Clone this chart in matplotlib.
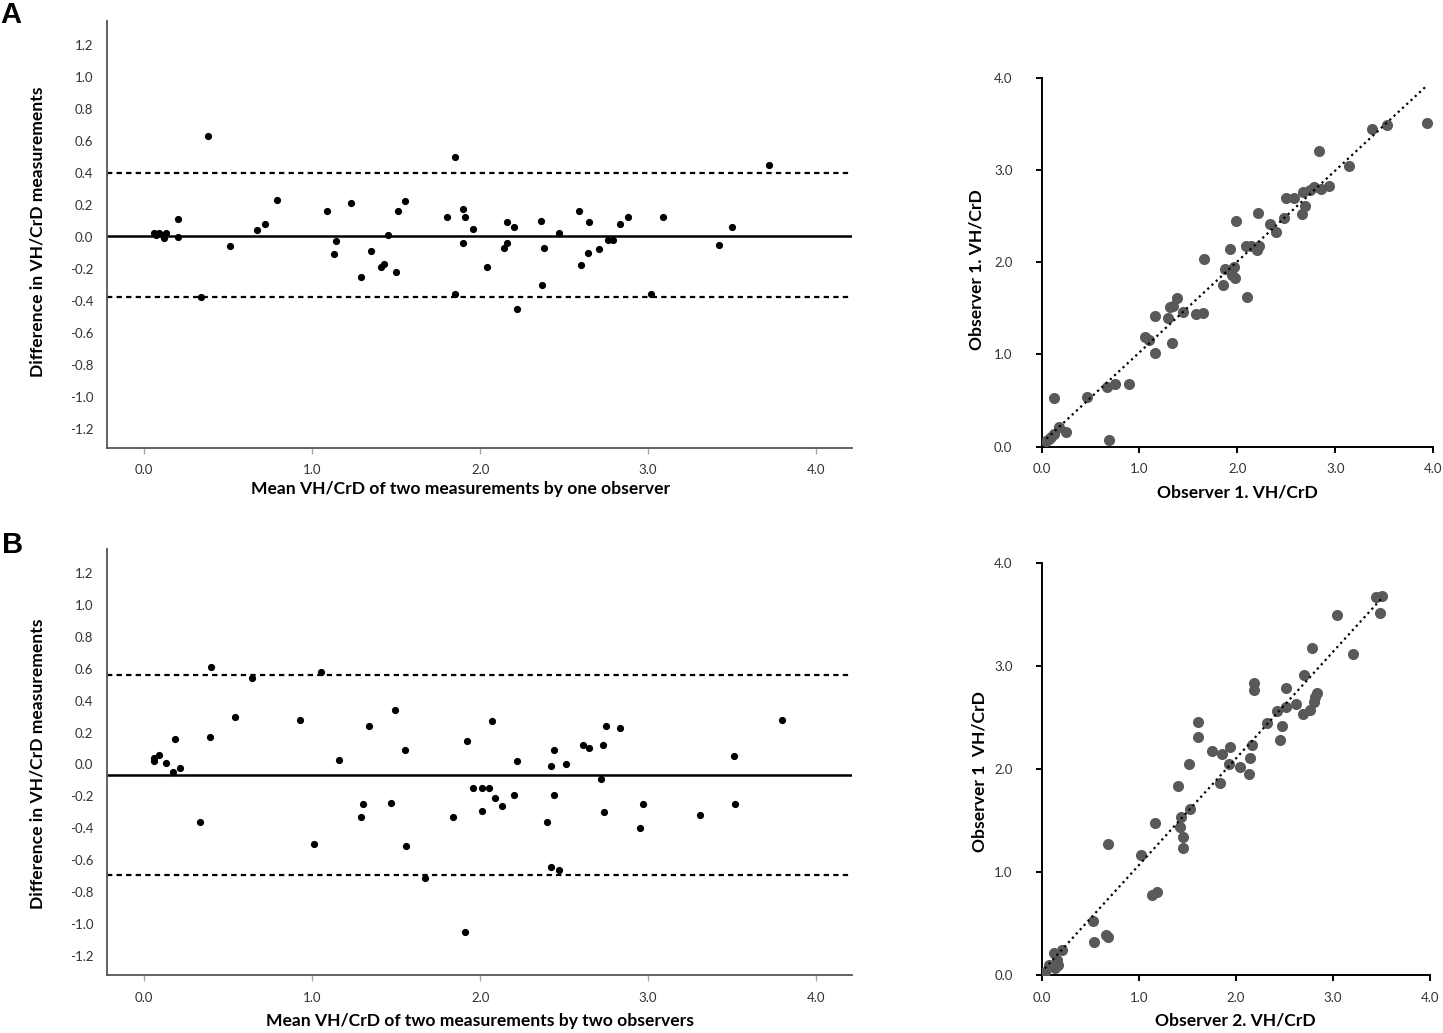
import matplotlib
matplotlib.use("Agg")
import matplotlib.pyplot as plt
import numpy as np

plt.rcParams["font.family"] = ["Lato", "DejaVu Sans"]
plt.rcParams["axes.unicode_minus"] = False

# ---- Panel A: one observer, two measurements ----
ba_a_mean = [0.06, 0.09, 0.11, 0.13, 0.12, 0.07, 0.20, 0.20, 0.38, 0.34,
             0.51, 0.67, 0.72, 0.79, 1.09, 1.14, 1.13, 1.23, 1.29, 1.35,
             1.41, 1.43, 1.45, 1.50, 1.51, 1.55, 1.80, 1.85, 1.85, 1.90,
             1.91, 1.90, 1.96, 2.04, 2.16, 2.20, 2.16, 2.14, 2.22, 2.36,
             2.38, 2.37, 2.47, 2.59, 2.65, 2.60, 2.64, 2.71, 2.76, 2.79,
             2.83, 2.88, 3.02, 3.09, 3.42, 3.50, 3.72]
ba_a_diff = [0.02, 0.02, 0.01, 0.02, -0.01, 0.01, 0.11, 0.00, 0.63, -0.38,
             -0.06, 0.04, 0.08, 0.23, 0.16, -0.03, -0.11, 0.21, -0.25, -0.09,
             -0.19, -0.17, 0.01, -0.22, 0.16, 0.22, 0.12, -0.36, 0.50, 0.17,
             0.12, -0.04, 0.05, -0.19, 0.09, 0.06, -0.04, -0.07, -0.45, 0.10,
             -0.07, -0.30, 0.02, 0.16, 0.09, -0.18, -0.10, -0.08, -0.02, -0.02,
             0.08, 0.12, -0.36, 0.12, -0.05, 0.06, 0.45]
ba_a_bias = 0.005
ba_a_upper = 0.398
ba_a_lower = -0.378

sc_a_x = [0.05, 0.08, 0.10, 0.13, 0.18, 0.25, 0.13, 0.69, 0.46, 0.67,
          0.75, 0.89, 1.06, 1.10, 1.16, 1.16, 1.29, 1.31, 1.34, 1.38,
          1.33, 1.45, 1.58, 1.65, 1.66, 1.85, 1.87, 1.93, 1.97, 1.95,
          1.98, 1.99, 2.10, 2.09, 2.14, 2.20, 2.22, 2.21, 2.33, 2.40,
          2.48, 2.50, 2.58, 2.66, 2.69, 2.67, 2.74, 2.78, 2.86, 2.94,
          2.83, 3.14, 3.38, 3.53, 3.94]
sc_a_y = [0.06, 0.08, 0.11, 0.14, 0.21, 0.16, 0.53, 0.07, 0.54, 0.65,
          0.68, 0.68, 1.19, 1.16, 1.02, 1.42, 1.40, 1.52, 1.53, 1.61,
          1.13, 1.46, 1.44, 1.45, 2.04, 1.75, 1.93, 2.14, 1.95, 1.86,
          1.83, 2.45, 1.62, 2.18, 2.18, 2.13, 2.18, 2.53, 2.42, 2.33,
          2.48, 2.70, 2.70, 2.52, 2.61, 2.76, 2.79, 2.82, 2.80, 2.83,
          3.21, 3.04, 3.45, 3.49, 3.51]

# ---- Panel B: two observers ----
ba_b_mean = [0.06, 0.06, 0.09, 0.13, 0.17, 0.21, 0.18, 0.33, 0.40, 0.39,
             0.54, 0.64, 0.93, 1.01, 1.05, 1.16, 1.29, 1.30, 1.34, 1.47,
             1.49, 1.55, 1.56, 1.67, 1.84, 1.91, 1.92, 1.96, 2.01, 2.01,
             2.05, 2.07, 2.09, 2.13, 2.20, 2.22, 2.40, 2.42, 2.44, 2.44,
             2.42, 2.47, 2.51, 2.61, 2.65, 2.73, 2.72, 2.75, 2.74, 2.83,
             2.97, 2.95, 3.31, 3.51, 3.52, 3.80]
ba_b_diff = [0.04, 0.02, 0.06, 0.01, -0.05, -0.02, 0.16, -0.36, 0.61, 0.17,
             0.30, 0.54, 0.28, -0.50, 0.58, 0.03, -0.33, -0.25, 0.24, -0.24,
             0.34, 0.09, -0.51, -0.71, -0.33, -1.05, 0.15, -0.15, -0.29, -0.15,
             -0.15, 0.27, -0.21, -0.26, -0.19, 0.02, -0.36, -0.01, 0.09, -0.19,
             -0.64, -0.66, 0.00, 0.12, 0.10, 0.12, -0.09, 0.24, -0.30, 0.23,
             -0.25, -0.40, -0.32, 0.05, -0.25, 0.28]
ba_b_bias = -0.066
ba_b_upper = 0.563
ba_b_lower = -0.695

sc_b_x = [0.03, 0.07, 0.12, 0.13, 0.17, 0.15, 0.21, 0.53, 0.54, 0.66,
          0.68, 0.68, 1.02, 1.13, 1.19, 1.16, 1.40, 1.43, 1.42, 1.45,
          1.45, 1.53, 1.52, 1.61, 1.61, 1.75, 1.83, 1.86, 1.93, 1.94,
          2.04, 2.13, 2.14, 2.17, 2.19, 2.19, 2.32, 2.42, 2.47, 2.45,
          2.52, 2.52, 2.62, 2.69, 2.76, 2.70, 2.78, 2.80, 2.81, 2.83,
          3.04, 3.21, 3.44, 3.50, 3.48]
sc_b_y = [0.03, 0.10, 0.21, 0.07, 0.10, 0.15, 0.24, 0.52, 0.32, 0.39,
          0.37, 1.27, 1.16, 0.78, 0.81, 1.47, 1.83, 1.53, 1.44, 1.34,
          1.23, 1.61, 2.05, 2.45, 2.31, 2.17, 1.86, 2.14, 2.05, 2.21,
          2.02, 1.95, 2.10, 2.23, 2.83, 2.76, 2.44, 2.56, 2.42, 2.28,
          2.78, 2.60, 2.63, 2.53, 2.57, 2.91, 3.17, 2.65, 2.70, 2.74,
          3.49, 3.11, 3.67, 3.68, 3.51]

ba_yticks = [-1.2, -1.0, -0.8, -0.6, -0.4, -0.2, 0.0, 0.2, 0.4, 0.6, 0.8, 1.0, 1.2]
ba_xticks = [0.0, 1.0, 2.0, 3.0, 4.0]
sc_ticks = [0.0, 1.0, 2.0, 3.0, 4.0]

TICK_COLOR = "#333333"
LABEL_KW = dict(fontsize=12.6, fontweight="bold", color="black")


def bland_altman(ax, means, diffs, bias, upper, lower, xlabel, xlab_pos, ylab_pos):
    ax.scatter(means, diffs, s=27, color="black", zorder=3, linewidths=0)
    ax.axhline(bias, color="black", lw=1.8, zorder=2)
    for lim in (upper, lower):
        ax.axhline(lim, color="black", lw=1.6, ls=(0, (2.4, 1.9)), zorder=2)
    ax.set_xlim(-0.22, 4.215)
    ax.set_ylim(-1.32, 1.35)
    ax.set_yticks(ba_yticks)
    ax.set_yticklabels([f"{v:.1f}" for v in ba_yticks])
    ax.set_xticks(ba_xticks)
    ax.set_xticklabels([f"{v:.1f}" for v in ba_xticks])
    for side in ("top", "right"):
        ax.spines[side].set_visible(False)
    for side in ("left", "bottom"):
        ax.spines[side].set_color("#555555")
        ax.spines[side].set_linewidth(1.3)
    ax.tick_params(axis="y", length=0, pad=10, labelsize=9.5, labelcolor=TICK_COLOR)
    ax.tick_params(axis="x", length=4, width=1, color="#a6a6a6", pad=8,
                   labelsize=9.5, labelcolor=TICK_COLOR)
    ax.set_xlabel(xlabel, va="center", **LABEL_KW)
    ax.xaxis.set_label_coords(*xlab_pos)
    ax.set_ylabel("Difference in VH/CrD measurements", va="center", **LABEL_KW)
    ax.yaxis.set_label_coords(*ylab_pos)


def observer_scatter(ax, xs, ys, xlabel, ylabel, xlab_pos, ylab_pos):
    ax.scatter(xs, ys, s=64, color="#595959", zorder=3, linewidths=0)
    slope, intercept = np.polyfit(xs, ys, 1)
    fit_x = np.array([min(xs), max(xs)])
    ax.plot(fit_x, slope * fit_x + intercept, color="black", lw=1.6,
            ls=(0, (1, 1.6)), zorder=4)
    ax.set_xlim(0, 4)
    ax.set_ylim(0, 4)
    ax.set_xticks(sc_ticks)
    ax.set_xticklabels([f"{v:.1f}" for v in sc_ticks])
    ax.set_yticks(sc_ticks)
    ax.set_yticklabels([f"{v:.1f}" for v in sc_ticks])
    for side in ("top", "right"):
        ax.spines[side].set_visible(False)
    for side in ("left", "bottom"):
        ax.spines[side].set_linewidth(1.4)
    ax.tick_params(axis="y", length=4, width=1.4, pad=17, labelsize=9.5,
                   labelcolor=TICK_COLOR)
    ax.tick_params(axis="x", length=4, width=1.4, pad=8, labelsize=9.5,
                   labelcolor=TICK_COLOR)
    ax.set_xlabel(xlabel, va="center", **LABEL_KW)
    ax.xaxis.set_label_coords(*xlab_pos)
    ax.set_ylabel(ylabel, va="center", **LABEL_KW)
    ax.yaxis.set_label_coords(*ylab_pos)


fig = plt.figure(figsize=(14.43, 10.33), dpi=100)

ax_ba_a = fig.add_axes([0.0744, 0.5666, 0.5161, 0.4134])
ax_sc_a = fig.add_axes([0.7218, 0.5676, 0.2713, 0.3569])
ax_ba_b = fig.add_axes([0.0744, 0.0561, 0.5161, 0.4124])
ax_sc_b = fig.add_axes([0.7221, 0.0561, 0.2689, 0.3993])

bland_altman(ax_ba_a, ba_a_mean, ba_a_diff, ba_a_bias, ba_a_upper, ba_a_lower,
             "Mean VH/CrD of two measurements by one observer",
             (0.4743, -0.0967), (-0.0935, 0.505))
bland_altman(ax_ba_b, ba_b_mean, ba_b_diff, ba_b_bias, ba_b_upper, ba_b_lower,
             "Mean VH/CrD of two measurements by two observers",
             (0.501, -0.108), (-0.0935, 0.495))
observer_scatter(ax_sc_a, sc_a_x, sc_a_y, "Observer 1. VH/CrD", "Observer 1. VH/CrD",
                 (0.4994, -0.123), (-0.1655, 0.481))
observer_scatter(ax_sc_b, sc_b_x, sc_b_y, "Observer 2. VH/CrD", "Observer 1  VH/CrD",
                 (0.497, -0.109), (-0.162, 0.493))

fig.text(0.0, 1 - 1 / 1033, "A", fontsize=21, fontweight="bold",
         family="Liberation Sans", ha="left", va="top")
fig.text(0.0015, 1 - 531 / 1033, "B", fontsize=21, fontweight="bold",
         family="Liberation Sans", ha="left", va="top")

fig.savefig("out.png", dpi=100)
